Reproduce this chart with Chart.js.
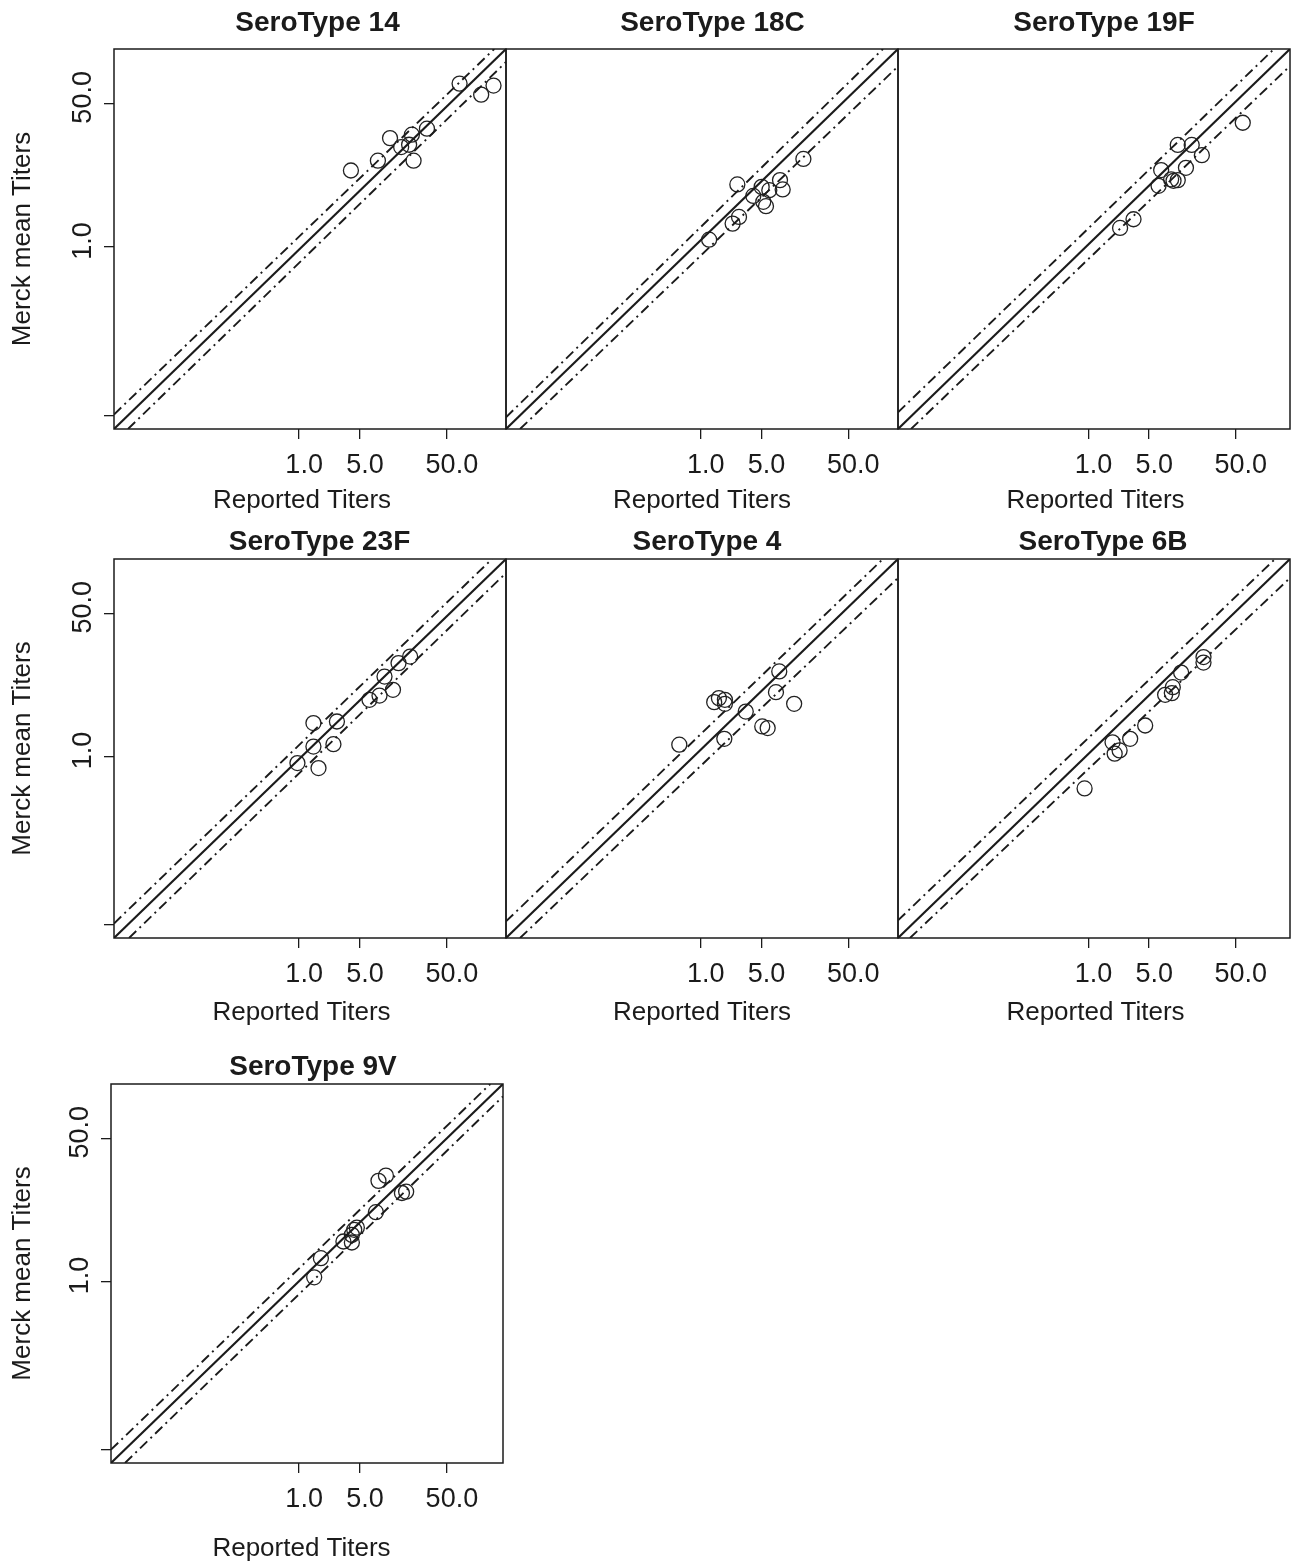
<!DOCTYPE html>
<html>
<head>
<meta charset="utf-8">
<script src="https://cdn.jsdelivr.net/npm/chart.js@4.4.1/dist/chart.umd.min.js"></script>
<style>
html, body { margin: 0; padding: 0; background: #fff; overflow: hidden; }
#page { position: relative; width: 1296px; height: 1565px; background: #fff; overflow: hidden; }
#page canvas { position: absolute; }
</style>
</head>
<body>
<div id="page"></div>
<script>
// ---------------- data ----------------
const panelTitles = ['SeroType 14', 'SeroType 18C', 'SeroType 19F', 'SeroType 23F', 'SeroType 4', 'SeroType 6B', 'SeroType 9V'];
const xAxisTitle = 'Reported Titers';
const yAxisTitle = 'Merck mean Titers';
const xTickValues = [1, 5, 50];
const xTickLabels = ['1.0', '5.0', '50.0'];
const yTickValues = [0.01, 1, 50];
const yTickLabels = ['', '1.0', '50.0'];

const st14Reported  = [3.94, 8.05, 11.1, 14.9, 18.4, 19.8, 20.7, 29.5, 70.0, 124, 172];
const st14Merck     = [8.03, 10.5, 19.4, 15.2, 16.2, 21.3, 10.5, 25.1, 85.6, 63.4, 81.1];
const st18CReported = [1.25, 2.33, 2.76, 2.64, 4.03, 5.03, 6.16, 5.25, 5.64, 8.18, 8.78, 15.2];
const st18CMerck    = [1.22, 1.89, 2.27, 5.49, 4.02, 5.14, 4.70, 3.42, 3.04, 6.18, 4.79, 11.0];
const st19FReported = [2.31, 3.30, 6.42, 6.88, 8.97, 9.56, 10.7, 10.7, 13.3, 15.5, 20.3, 60.2];
const st19FMerck    = [1.68, 2.13, 5.29, 8.12, 6.30, 6.06, 6.18, 16.1, 8.64, 16.1, 12.2, 29.5];
const st23FReported = [0.956, 1.46, 1.46, 1.67, 2.48, 2.72, 6.44, 8.40, 9.59, 12.0, 13.9, 18.9];
const st23FMerck    = [0.835, 2.49, 1.31, 0.729, 1.40, 2.60, 4.70, 5.28, 8.87, 6.17, 12.8, 15.3];
const st4Reported   = [0.567, 1.43, 1.62, 1.90, 1.90, 1.87, 3.30, 5.11, 5.90, 7.35, 8.02, 11.9];
const st4Merck      = [1.38, 4.41, 4.92, 4.70, 4.21, 1.62, 3.41, 2.27, 2.17, 5.79, 10.2, 4.21];
const st6BReported  = [0.899, 1.89, 2.00, 2.28, 3.02, 4.50, 7.65, 9.14, 9.38, 11.7, 21.2, 21.2];
const st6BMerck     = [0.418, 1.47, 1.08, 1.18, 1.62, 2.33, 5.38, 5.64, 6.64, 9.89, 13.0, 15.1];
const st9VReported  = [1.49, 1.78, 3.23, 4.04, 4.04, 4.30, 4.61, 7.63, 8.17, 9.95, 15.2, 17.0];
const st9VMerck     = [1.12, 1.89, 2.98, 2.90, 3.57, 4.10, 4.36, 6.64, 15.6, 18.0, 11.2, 11.6];

// axis limits of each panel (log axes)
const xAxisMin = [0.00743, 0.00574, 0.00631, 0.00743, 0.00574, 0.00631, 0.00687];
const xAxisMax = [239.3, 186.6, 211.3, 239.3, 186.6, 211.3, 220.8];
const yAxisMin = [0.00703, 0.00703, 0.00703, 0.00703, 0.00703, 0.00703, 0.00703];
const yAxisMax = [219.8, 219.8, 219.8, 219.8, 219.8, 219.8, 219.8];

// reference lines: [xStart, yStart, xEnd, yEnd]
const centerLine = [
  [0.00743, 0.00703, 239.3, 219.8],
  [0.00574, 0.00703, 186.6, 219.8],
  [0.00631, 0.00703, 211.3, 219.8],
  [0.00743, 0.00703, 239.3, 219.8],
  [0.00574, 0.00703, 186.6, 219.8],
  [0.00631, 0.00703, 211.3, 219.8],
  [0.00687, 0.00703, 220.8, 219.8]
];
const upperLine = [
  [0.00743, 0.01045, 175.4, 219.8],
  [0.00574, 0.00968, 125.3, 219.8],
  [0.00631, 0.01107, 138.0, 219.8],
  [0.00743, 0.01045, 165.2, 219.8],
  [0.00574, 0.01107, 125.3, 219.8],
  [0.00631, 0.01138, 141.9, 219.8],
  [0.00687, 0.01012, 157.8, 219.8]
];
const lowerLine = [
  [0.01076, 0.00703, 239.3, 154.2],
  [0.00832, 0.00703, 186.6, 136.8],
  [0.00891, 0.00703, 211.3, 138.4],
  [0.01107, 0.00703, 239.3, 150.0],
  [0.00832, 0.00703, 186.6, 130.9],
  [0.00867, 0.00703, 211.3, 130.9],
  [0.00995, 0.00703, 220.8, 156.7]
];

const reportedSeries = [st14Reported, st18CReported, st19FReported, st23FReported, st4Reported, st6BReported, st9VReported];
const merckSeries    = [st14Merck, st18CMerck, st19FMerck, st23FMerck, st4Merck, st6BMerck, st9VMerck];

// ---------------- layout / style ----------------
const plotBoxes = [
  {left: 114, top: 49,   w: 392, h: 380, showY: true,  row: 0},
  {left: 506, top: 49,   w: 392, h: 380, showY: false, row: 0},
  {left: 898, top: 49,   w: 392, h: 380, showY: false, row: 0},
  {left: 114, top: 559,  w: 392, h: 379, showY: true,  row: 1},
  {left: 506, top: 559,  w: 392, h: 379, showY: false, row: 1},
  {left: 898, top: 559,  w: 392, h: 379, showY: false, row: 1},
  {left: 111, top: 1084, w: 392, h: 379, showY: true,  row: 2}
];
const rowStyle = [
  {titleRise: 25.3, xAxisH: 100, xTitleDrop: 71.5},
  {titleRise: 17,   xAxisH: 100, xTitleDrop: 75},
  {titleRise: 17,   xAxisH: 102, xTitleDrop: 85.5}
];
const titleDx  = [7.5, 10.5, 10, 9.5, 5, 9, 6];
const xTitleDx = [-8, 0, 1.5, -8.5, 0, 1.5, -5.5];
const yTitlePad = [7, 7, 7, 7, 7, 7, 10];

const LEFT_SPACE = 114, TOP_SPACE = 49, RIGHT_SPACE = 10;
const INK = '#1b1b1b';
const FONT = '"Liberation Sans", Arial, Helvetica, sans-serif';
Chart.defaults.font.family = FONT;
Chart.defaults.color = INK;

const panelTextPlugin = {
  id: 'panelText',
  afterDraw(chart, args, opts) {
    const {ctx, chartArea: a} = chart;
    ctx.save();
    // plot frame
    ctx.strokeStyle = INK;
    ctx.lineWidth = 1.5;
    ctx.strokeRect(a.left, a.top, a.right - a.left, a.bottom - a.top);
    ctx.fillStyle = INK;
    // main title
    ctx.font = 'bold 28px ' + FONT;
    ctx.textAlign = 'center';
    ctx.textBaseline = 'middle';
    ctx.fillText(opts.title, (a.left + a.right) / 2 + opts.titleDx, a.top - opts.titleRise);
    // x axis title
    ctx.font = '26px ' + FONT;
    ctx.fillText(xAxisTitle, (a.left + a.right) / 2 + opts.xTitleDx, a.bottom + opts.xTitleDrop);
    // rotated y tick labels
    if (opts.showY) {
      const ys = chart.scales.y;
      ctx.font = '27px ' + FONT;
      ctx.textBaseline = 'alphabetic';
      ctx.textAlign = 'center';
      yTickValues.forEach((v, i) => {
        if (!yTickLabels[i]) return;
        const py = ys.getPixelForValue(v);
        ctx.save();
        ctx.translate(a.left - 23.5, py - 6);
        ctx.rotate(-Math.PI / 2);
        ctx.fillText(yTickLabels[i], 0, 0);
        ctx.restore();
      });
    }
    ctx.restore();
  }
};

const page = document.getElementById('page');

plotBoxes.forEach((b, i) => {
  const rs = rowStyle[b.row];
  const canvas = document.createElement('canvas');
  const W = LEFT_SPACE + b.w + RIGHT_SPACE;
  const H = TOP_SPACE + b.h + rs.xAxisH;
  canvas.width = W; canvas.height = H;
  canvas.style.width = W + 'px'; canvas.style.height = H + 'px';
  canvas.style.left = (b.left - LEFT_SPACE) + 'px';
  canvas.style.top = (b.top - TOP_SPACE) + 'px';
  page.appendChild(canvas);

  const pts = reportedSeries[i].map((x, k) => ({x: x, y: merckSeries[i][k]}));
  const seg = (s) => [{x: s[0], y: s[1]}, {x: s[2], y: s[3]}];
  const lineBase = {showLine: true, pointRadius: 0, pointHoverRadius: 0, borderColor: INK, fill: false, tension: 0};

  new Chart(canvas, {
    type: 'scatter',
    data: {
      datasets: [
        Object.assign({data: seg(centerLine[i]), borderWidth: 2.1}, lineBase),
        Object.assign({data: seg(upperLine[i]), borderWidth: 1.9, borderDash: [10, 4.5, 2, 4.5]}, lineBase),
        Object.assign({data: seg(lowerLine[i]), borderWidth: 1.9, borderDash: [10, 4.5, 2, 4.5]}, lineBase),
        {
          data: pts,
          pointStyle: 'circle',
          pointRadius: 7.5,
          pointHoverRadius: 7.5,
          borderColor: '#222',
          backgroundColor: 'rgba(0,0,0,0)',
          pointBackgroundColor: 'rgba(0,0,0,0)',
          borderWidth: 1.3,
          showLine: false
        }
      ]
    },
    options: {
      responsive: false,
      devicePixelRatio: 1,
      animation: false,
      events: [],
      layout: {padding: {top: TOP_SPACE, right: RIGHT_SPACE, left: 0, bottom: 0}},
      plugins: {
        legend: {display: false},
        tooltip: {enabled: false},
        title: {display: false},
        panelText: {
          title: panelTitles[i],
          titleDx: titleDx[i],
          titleRise: rs.titleRise,
          xTitleDx: xTitleDx[i],
          xTitleDrop: rs.xTitleDrop,
          showY: b.showY
        }
      },
      scales: {
        x: {
          type: 'logarithmic',
          min: xAxisMin[i],
          max: xAxisMax[i],
          offset: false,
          border: {display: false},
          grid: {display: true, drawOnChartArea: false, drawTicks: true, tickLength: 10, color: INK, lineWidth: 1.3},
          afterBuildTicks: (s) => { s.ticks = xTickValues.map(v => ({value: v})); },
          afterFit: (s) => { s.height = rs.xAxisH; },
          ticks: {
            autoSkip: false, maxRotation: 0, minRotation: 0,
            padding: 10, labelOffset: 5,
            font: {size: 27}, color: INK,
            callback: (v) => { const k = xTickValues.indexOf(v); return k >= 0 ? xTickLabels[k] : ''; }
          },
          title: {display: false}
        },
        y: {
          type: 'logarithmic',
          min: yAxisMin[i],
          max: yAxisMax[i],
          offset: false,
          border: {display: false},
          grid: {display: b.showY, drawOnChartArea: false, drawTicks: true, tickLength: 10, color: INK, lineWidth: 1.3},
          afterBuildTicks: (s) => { s.ticks = yTickValues.map(v => ({value: v})); },
          afterFit: (s) => { s.width = LEFT_SPACE; },
          ticks: {display: false},
          title: {
            display: b.showY,
            text: yAxisTitle,
            font: {size: 26},
            color: INK,
            padding: {top: yTitlePad[i], bottom: 0}
          }
        }
      }
    },
    plugins: [panelTextPlugin]
  });
});
</script>
</body>
</html>
